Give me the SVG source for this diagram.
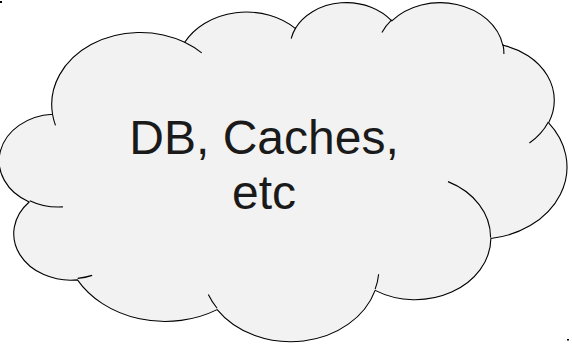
<svg xmlns="http://www.w3.org/2000/svg" width="572" height="345" viewBox="0 0 572 345">
  <style>
    .cloud-fill { fill: #f2f2f2; stroke: #000000; stroke-width: 1.1; stroke-linejoin: round; }
    .cloud-line { fill: none; stroke: #000000; stroke-width: 1.1; stroke-linecap: butt; }
    .label { font-family: "Liberation Sans", Arial, sans-serif; font-size: 48px; fill: #1a1a1a; text-anchor: middle; }
    .mark { fill: #000000; }
  </style>
  <rect class="mark" x="0" y="1" width="2" height="2"/>
  <rect class="mark" x="567" y="339" width="2" height="1.5"/>
  <g id="cloud">
    <g transform="translate(1.5 1.5) scale(0.013083 0.0078472)">
      <path class="cloud-fill" vector-effect="non-scaling-stroke" d="M 3900 14370 A 6753 9190 0 0 1 14005 5202 A 5333 7267 0 0 1 22456 3432 A 4365 5945 0 0 1 29834 2481 A 4857 6595 0 0 1 38320 5575 A 5333 7273 0 0 1 41821 15459 A 6775 9220 0 0 1 37406 30202 A 5785 7867 0 0 1 28558 36813 A 6752 9215 0 0 1 16483 39265 A 7720 10543 0 0 1 5805 35470 A 4360 5918 0 0 1 2115 25546 A 4345 5945 0 0 1 3900 14370 Z"/>
      <path class="cloud-line" vector-effect="non-scaling-stroke" d="M 4693 26177 A 4345 5945 0 0 1 2161 25381 M 6928 34899 A 4360 5918 0 0 1 5820 35280 M 16478 39090 A 6752 9215 0 0 1 15809 37348 M 28827 34751 A 6752 9215 0 0 1 28560 36660 M 34129 22954 A 5785 7867 0 0 1 37381 30090 M 41798 15354 A 5333 7273 0 0 1 40351 18029 M 38324 5426 A 4857 6595 0 0 1 38400 6690 M 29078 3952 A 4857 6595 0 0 1 29819 2340 M 22141 4720 A 4365 5945 0 0 1 22500 3331 M 14000 5192 A 6753 9190 0 0 1 15302 6543 M 4127 15789 A 6753 9190 0 0 1 3900 14371"/>
    </g>
    <text class="label" x="264" y="154">DB, Caches,</text>
    <text class="label" x="264" y="208.5">etc</text>
  </g>
  <g id="connectors"/>
</svg>
